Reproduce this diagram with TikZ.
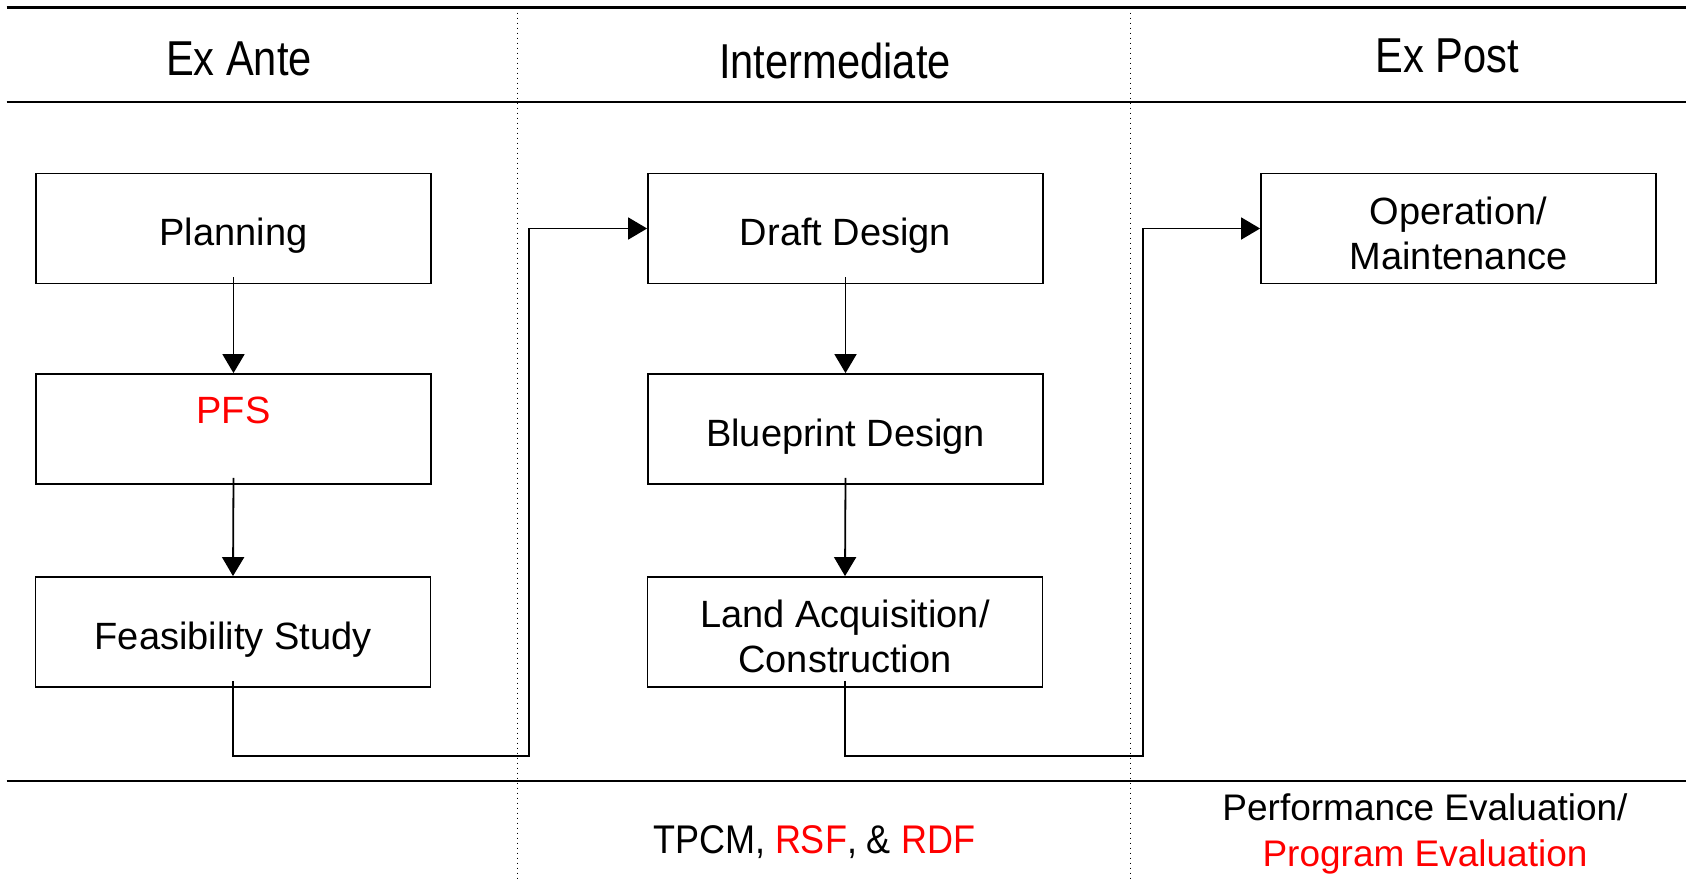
\documentclass[tikz,border=0pt]{standalone}
\usepackage{fontspec}
\setmainfont{Liberation Sans}
\usetikzlibrary{arrows.meta}
\begin{document}
\begin{tikzpicture}[x=0.5pt,y=-0.5pt,
  box/.style={draw, line width=0.9pt, minimum width=197.5pt, minimum height=55pt,
    inner sep=0pt, align=center, font=\fontsize{19}{22.5}\selectfont,
    text height=17pt, text depth=0pt},
  twoline/.style={text height=40.7pt, text depth=0pt},
  head/.style={anchor=base, inner sep=0pt, font=\fontsize{24.5}{28}\selectfont},
  rulel/.style={line width=1.1pt},
  sepl/.style={line width=0.5pt, dotted},
  conn/.style={line width=0.9pt, -{Triangle[length=9.5pt,width=11pt]}},
  foot/.style={inner sep=0pt, align=center, font=\fontsize{18.5}{23}\selectfont}
]
\useasboundingbox (0,0) rectangle (1686,878);
% frame lines
\draw[rulel] (6.5,7.5) -- (1686,7.5);
\draw[rulel] (6.5,102) -- (1686,102);
\draw[rulel] (6.5,781) -- (1686,781);
\draw[sepl] (517,7.5) -- (517,878);
\draw[sepl] (1130,7.5) -- (1130,878);
% headers
\node[head] (h1) at (239,75) {\scalebox{0.85}[1]{Ex Ante}};
\node[head] (h2) at (835,78.5) {\scalebox{0.85}[1]{Intermediate}};
\node[head] (h3) at (1447,72) {\scalebox{0.85}[1]{Ex Post}};
% boxes
\node[box] (plan) at (233.5,228.5) {Planning};
\node[box, text=red, text height=0pt, text depth=0pt] (pfs) at (233.5,429) {\raisebox{2.7pt}[0pt][0pt]{PFS}};
\node[box] (feas) at (233,632) {Feasibility Study};
\node[box] (draft) at (845.5,228.5) {Draft Design};
\node[box] (blue) at (845.5,429) {Blueprint Design};
\node[box, twoline] (land) at (845,632) {Land Acquisition/\\Construction};
\node[box, twoline] (oper) at (1458.5,228.5) {Operation/\\Maintenance};
% connectors
\draw[conn] ([yshift=3.5pt]plan.south) -- (pfs.north);
\draw[conn] ([yshift=3.5pt]pfs.south) -- (feas.north);
\draw[conn] ([yshift=3.5pt]draft.south) -- (draft.south |- blue.north);
\draw[conn] ([yshift=3.5pt]blue.south) -- (land.north);
\coordinate (k1) at (529,756);
\coordinate (k2) at (1143,756);
\draw[conn] ([yshift=3.5pt]feas.south) -- (feas.south |- k1) -- (k1) -- (k1 |- draft.west) -- (draft.west);
\draw[conn] ([yshift=3.5pt]land.south) -- (land.south |- k2) -- (k2) -- (k2 |- oper.west) -- (oper.west);
% footer texts
\node[foot] (f1) at (814,842.5) {\fontsize{20}{23}\selectfont\scalebox{0.9}[1]{TPCM, \textcolor{red}{RSF}, \& \textcolor{red}{RDF}}};
\node[foot] (f2) at (1425,833.5) {Performance Evaluation/\\\textcolor{red}{Program Evaluation}};
\end{tikzpicture}
\end{document}
